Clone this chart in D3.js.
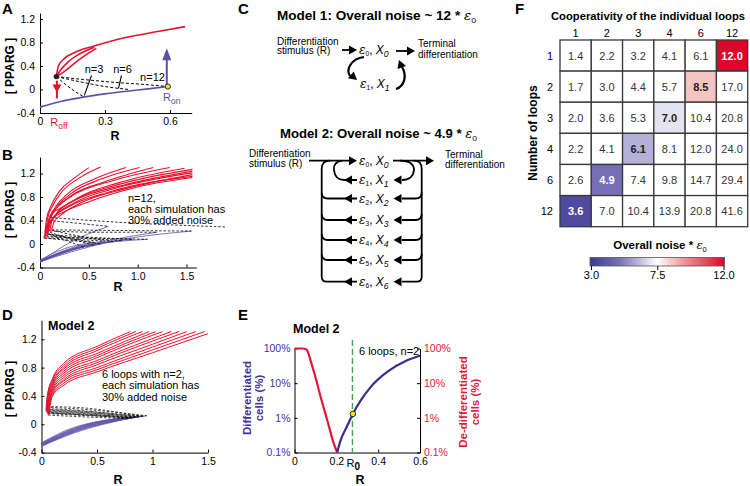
<!DOCTYPE html>
<html><head><meta charset="utf-8">
<script src="https://cdn.jsdelivr.net/npm/d3@7"></script>
<style>body{margin:0;background:#fff}svg{font-family:"Liberation Sans",Arial,sans-serif}</style>
</head><body><svg id="c" width="750" height="486"></svg>
<script>
// ---------------- DATA ----------------
// Panel A
const aXTicks=[0,0.3,0.6];
const aYTicks=[-0.4,0,0.4,0.8,1.2];
const aRed=[
 [[0.075,0.22],[0.085,0.40],[0.11,0.52],[0.16,0.63],[0.25,0.74],[0.40,0.89],[0.55,0.99],[0.67,1.07]],
 [[0.075,0.22],[0.095,0.33],[0.13,0.47],[0.18,0.60],[0.25,0.72]],
 [[0.075,0.22],[0.11,0.30],[0.15,0.42],[0.20,0.56],[0.26,0.70]]
];
const aBlue=[[0,-0.30],[0.1,-0.20],[0.2,-0.13],[0.3,-0.075],[0.4,-0.03],[0.5,0.01],[0.59,0.05]];
const aDashed=[
 [[0.075,0.22],[0.12,0.08],[0.16,-0.03],[0.20,-0.12]],
 [[0.075,0.22],[0.2,0.12],[0.3,0.05],[0.41,0.0]],
 [[0.075,0.22],[0.2,0.17],[0.35,0.12],[0.5,0.08],[0.59,0.05]]
];
const aLoopLabels=["n=3","n=6","n=12"];
const aROff=[0.075,0.22], aROn=[0.59,0.05];
const aOffArrow=[0.078,0.15,-0.05], aOnArrow=[0.585,0.07,0.70];

// Panel B (n=12, 30% noise)
const bXTicks=[0,0.5,1.0,1.5];
const bYTicks=[-0.4,0,0.4,0.8,1.2];
const bRed=[
 [[0.05,0.20],[0.07,0.45],[0.10,0.60],[0.20,0.90],[0.35,1.12],[0.50,1.30]],
 [[0.06,0.22],[0.08,0.45],[0.12,0.62],[0.22,0.88],[0.40,1.12],[0.62,1.31]],
 [[0.07,0.18],[0.09,0.40],[0.14,0.58],[0.28,0.85],[0.55,1.10],[0.88,1.30]],
 [[0.08,0.25],[0.10,0.42],[0.16,0.60],[0.32,0.86],[0.62,1.10],[1.02,1.30]],
 [[0.06,0.14],[0.08,0.35],[0.13,0.52],[0.30,0.80],[0.65,1.05],[1.16,1.30]],
 [[0.09,0.40],[0.11,0.50],[0.17,0.62],[0.35,0.84],[0.75,1.08],[1.33,1.30]],
 [[0.10,0.22],[0.12,0.38],[0.18,0.53],[0.38,0.78],[0.80,1.04],[1.48,1.29]],
 [[0.08,0.16],[0.10,0.33],[0.16,0.50],[0.36,0.75],[0.80,1.01],[1.56,1.27]],
 [[0.11,0.45],[0.13,0.52],[0.20,0.60],[0.40,0.78],[0.85,1.00],[1.56,1.24]],
 [[0.07,0.12],[0.09,0.30],[0.15,0.46],[0.35,0.70],[0.80,0.96],[1.56,1.21]],
 [[0.12,0.24],[0.14,0.36],[0.22,0.50],[0.42,0.70],[0.90,0.95],[1.56,1.18]],
 [[0.05,0.10],[0.07,0.28],[0.12,0.42],[0.28,0.62],[0.70,0.88],[1.56,1.15]],
 [[0.04,0.10],[0.07,0.30],[0.12,0.42],[0.25,0.55],[0.50,0.72],[1.00,0.97],[1.56,1.13]]
];
const bDashed=[
 [[0.05,0.20],[0.20,0.10],[0.45,-0.05]],
 [[0.06,0.22],[0.25,0.12],[0.55,-0.02]],
 [[0.07,0.18],[0.30,0.10],[0.62,0.00]],
 [[0.08,0.25],[0.35,0.15],[0.75,0.04]],
 [[0.06,0.14],[0.40,0.10],[0.85,0.06]],
 [[0.09,0.40],[0.40,0.35],[0.70,0.30]],
 [[0.10,0.22],[0.60,0.20],[1.20,0.20]],
 [[0.08,0.16],[0.45,0.12],[0.95,0.08]],
 [[0.11,0.45],[0.80,0.37],[1.90,0.29]],
 [[0.07,0.12],[0.50,0.10],[1.10,0.08]],
 [[0.12,0.24],[0.80,0.23],[1.55,0.22]],
 [[0.05,0.10],[0.30,0.06],[0.55,0.03]],
 [[0.04,0.10],[0.35,0.08],[0.65,0.05]]
];
const bBlue=[
 [[0,-0.30],[0.20,-0.15],[0.45,-0.05]],
 [[0,-0.31],[0.25,-0.13],[0.55,-0.02]],
 [[0,-0.29],[0.30,-0.10],[0.62,0.00]],
 [[0,-0.30],[0.35,-0.07],[0.75,0.04]],
 [[0,-0.28],[0.40,-0.05],[0.85,0.06]],
 [[0,-0.30],[0.30,0.02],[0.70,0.30]],
 [[0,-0.29],[0.60,0.02],[1.20,0.20]],
 [[0,-0.31],[0.45,-0.04],[0.95,0.08]],
 [[0,-0.28],[0.50,-0.03],[1.10,0.08]],
 [[0,-0.30],[0.70,0.03],[1.55,0.22]],
 [[0,-0.27],[0.25,-0.08],[0.55,0.03]],
 [[0,-0.29],[0.30,-0.08],[0.65,0.05]]
];
const bNote=["n=12,","each simulation has","30% added noise"];

// Panel D (Model 2, 6 loops n=2, 30% noise)
const dXTicks=[0,0.5,1,1.5];
const dYTicks=[-0.4,0,0.4,0.8,1.2];
const dRed=[
 [[0.045,0.24],[0.055,0.42],[0.10,0.65],[0.20,0.86],[0.50,1.10],[0.80,1.31]],
 [[0.040,0.21],[0.052,0.39],[0.10,0.63],[0.20,0.83],[0.50,1.07],[0.85,1.31]],
 [[0.050,0.25],[0.062,0.42],[0.10,0.60],[0.20,0.80],[0.50,1.04],[0.91,1.31]],
 [[0.042,0.19],[0.055,0.36],[0.10,0.58],[0.20,0.78],[0.50,1.00],[0.97,1.31]],
 [[0.055,0.22],[0.067,0.38],[0.10,0.56],[0.20,0.75],[0.50,0.97],[1.03,1.31]],
 [[0.048,0.17],[0.060,0.33],[0.10,0.54],[0.20,0.72],[0.50,0.94],[1.09,1.31]],
 [[0.060,0.20],[0.072,0.35],[0.10,0.51],[0.20,0.69],[0.50,0.90],[1.17,1.31]],
 [[0.052,0.16],[0.065,0.31],[0.10,0.49],[0.20,0.66],[0.50,0.87],[1.24,1.31]],
 [[0.065,0.18],[0.077,0.32],[0.10,0.47],[0.20,0.63],[0.50,0.84],[1.00,1.13],[1.31,1.31]],
 [[0.058,0.15],[0.070,0.29],[0.10,0.45],[0.20,0.61],[0.50,0.80],[1.00,1.09],[1.39,1.31]],
 [[0.070,0.16],[0.082,0.30],[0.10,0.42],[0.20,0.58],[0.50,0.77],[1.00,1.05],[1.47,1.31]],
 [[0.060,0.13],[0.073,0.28],[0.10,0.40],[0.20,0.55],[0.50,0.74],[1.00,1.01],[1.50,1.28]]
];
const dDashed=[
 [[0.045,0.24],[0.30,0.22],[0.95,0.12]],
 [[0.040,0.21],[0.30,0.19],[0.93,0.115]],
 [[0.050,0.25],[0.30,0.24],[0.91,0.11]],
 [[0.042,0.19],[0.30,0.17],[0.90,0.11]],
 [[0.055,0.22],[0.30,0.20],[0.88,0.105]],
 [[0.048,0.17],[0.30,0.15],[0.87,0.10]],
 [[0.060,0.20],[0.30,0.18],[0.85,0.10]],
 [[0.052,0.16],[0.30,0.14],[0.84,0.095]],
 [[0.065,0.18],[0.30,0.16],[0.82,0.09]],
 [[0.058,0.15],[0.30,0.13],[0.81,0.09]],
 [[0.070,0.16],[0.30,0.14],[0.79,0.085]],
 [[0.060,0.13],[0.30,0.11],[0.78,0.08]]
];
const dBlue=[
 [[0,-0.26],[0.3,-0.04],[0.95,0.12]],
 [[0,-0.27],[0.3,-0.05],[0.93,0.115]],
 [[0,-0.27],[0.3,-0.06],[0.91,0.11]],
 [[0,-0.28],[0.3,-0.06],[0.90,0.11]],
 [[0,-0.28],[0.3,-0.07],[0.88,0.105]],
 [[0,-0.29],[0.3,-0.08],[0.87,0.10]],
 [[0,-0.29],[0.3,-0.08],[0.85,0.10]],
 [[0,-0.30],[0.3,-0.09],[0.84,0.095]],
 [[0,-0.30],[0.3,-0.10],[0.82,0.09]],
 [[0,-0.30],[0.3,-0.10],[0.81,0.09]],
 [[0,-0.31],[0.3,-0.11],[0.79,0.085]],
 [[0,-0.31],[0.3,-0.12],[0.78,0.08]]
];
const dNote=["6 loops with n=2,","each simulation has","30% added noise"];

// Panel E (percent of cells vs R)
const eXTicks=[0,0.2,0.4,0.6];
const eYTicks=[0.1,1,10,100];
const eRed=[[0,100],[0.04,100],[0.055,95],[0.064,80],[0.074,51],[0.1,15],[0.125,4],[0.157,0.84],[0.188,0.18],[0.204,0.1]];
const eBlue=[[0.204,0.1],[0.22,0.22],[0.25,0.55],[0.279,1.3],[0.32,3.4],[0.364,7.7],[0.443,21],[0.539,46],[0.6,62]];
const eR0=0.277, eDot=[0.279,1.3];

// Panel F (overall noise table)
const fCols=["1","2","3","4","6","12"];
const fRows=["1","2","3","4","6","12"];
const fValues=[
 [1.4,2.2,3.2,4.1,6.1,12.0],
 [1.7,3.0,4.4,5.7,8.5,17.0],
 [2.0,3.6,5.3,7.0,10.4,20.8],
 [2.2,4.1,6.1,8.1,12.0,24.0],
 [2.6,4.9,7.4,9.8,14.7,29.4],
 [3.6,7.0,10.4,13.9,20.8,41.6]
];
const fHighlighted=[[0,5],[1,4],[2,3],[3,2],[4,1],[5,0]];
const fBarTicks=[3.0,7.5,12.0];

// ---------------- DRAWING ----------------
const svg=d3.select("#c");
const RED="#e4122e", BLUE="#5a51a6", EBLUE="#3a2c8c", ERED="#e2173b", LBLUE="#3d3597";
const FONT="'Liberation Sans',Arial,sans-serif";
const num=v=>String(v);

function arrowHead(g,x,y,ang,len,hw,color){
  g.append("path").attr("d",`M0,0 L${-len},${-hw} L${-len},${hw} Z`)
   .attr("transform",`translate(${x},${y}) rotate(${ang})`).attr("fill",color);
}
function letter(t,x,y){svg.append("text").attr("x",x).attr("y",y).attr("font-size",15).attr("font-weight","bold").text(t);}
function styleAxis(g){g.attr("font-family",FONT).attr("font-size",10.5);g.selectAll("path,line").attr("stroke","#000");}
function rotLabel(g,t,x,y,size,color){
  g.append("text").attr("transform",`translate(${x},${y}) rotate(-90)`).attr("text-anchor","middle")
   .attr("dy","0.35em").attr("font-size",size).attr("font-weight","bold").attr("fill",color||"#000").text(t);
}
function xyAxes(x,y,xt,yt,xf){
  const g=svg.append("g");
  g.append("g").attr("transform",`translate(0,${y.range()[0]})`)
   .call(d3.axisBottom(x).tickValues(xt).tickFormat(xf).tickSize(-3).tickSizeOuter(0).tickPadding(5)).call(styleAxis);
  g.append("g").attr("transform",`translate(${x.range()[0]},0)`)
   .call(d3.axisLeft(y).tickValues(yt).tickFormat(num).tickSize(-3).tickSizeOuter(0).tickPadding(5)).call(styleAxis);
  return g;
}
function curves(x,y,data,color,w,dash){
  const ln=d3.line().x(d=>x(d[0])).y(d=>y(d[1])).curve(d3.curveMonotoneX);
  const g=svg.append("g");
  g.selectAll("path").data(data).join("path").attr("d",ln).attr("fill","none")
   .attr("stroke",color).attr("stroke-width",w).attr("stroke-dasharray",dash||null);
  return g;
}

// ---- Panel A ----
letter("A",2,14);
const xA=d3.scaleLinear().domain([0,0.7]).range([40,191.7]);
const yA=d3.scaleLinear().domain([-0.4,1.3]).range([113,13.1]);
xyAxes(xA,yA,aXTicks,aYTicks,num);
curves(xA,yA,[aBlue],BLUE,1.6);
curves(xA,yA,aDashed,"#000",1,"3,2");
curves(xA,yA,aRed,RED,1.6);
{
 const g=svg.append("g");
 g.append("line").attr("x1",xA(aOffArrow[0])).attr("x2",xA(aOffArrow[0])).attr("y1",yA(aOffArrow[1])).attr("y2",yA(aOffArrow[2])+6).attr("stroke",RED).attr("stroke-width",2);
 arrowHead(g,xA(aOffArrow[0]),yA(aOffArrow[2]),90,8,4.5,RED);
 g.append("line").attr("x1",xA(aOnArrow[0])).attr("x2",xA(aOnArrow[0])).attr("y1",yA(aOnArrow[1])).attr("y2",yA(aOnArrow[2])+8).attr("stroke",BLUE).attr("stroke-width",2);
 arrowHead(g,xA(aOnArrow[0]),yA(aOnArrow[2]),-90,12,4.5,BLUE);
 g.append("circle").attr("cx",xA(aROff[0])).attr("cy",yA(aROff[1])).attr("r",2.6).attr("fill","#222");
 g.append("circle").attr("cx",xA(aROn[0])).attr("cy",yA(aROn[1])).attr("r",2.6).attr("fill","#f3e52a").attr("stroke","#000").attr("stroke-width",0.8);
 const lp=[[94,73],[122.5,73],[152.5,80.5]];
 aLoopLabels.forEach((t,i)=>g.append("text").attr("x",lp[i][0]).attr("y",lp[i][1]).attr("text-anchor","middle").attr("font-size",11).text(t));
 g.append("line").attr("x1",91.5).attr("y1",75.5).attr("x2",xA(0.2)+1).attr("y2",yA(-0.1)).attr("stroke","#000").attr("stroke-width",1.1);
 g.append("line").attr("x1",121.5).attr("y1",75.5).attr("x2",118.5).attr("y2",yA(0.02)).attr("stroke","#000").attr("stroke-width",1.1);
 const off=g.append("text").attr("x",xA(aROff[0])-6).attr("y",126).attr("font-size",11).attr("fill",RED);
 off.append("tspan").text("R");off.append("tspan").attr("font-size",8.5).attr("dy",2.5).text("off");
 const on=g.append("text").attr("x",163).attr("y",101).attr("font-size",11).attr("fill",BLUE);
 on.append("tspan").text("R");on.append("tspan").attr("font-size",8.5).attr("dy",2.5).text("on");
 g.append("text").attr("x",115).attr("y",139.5).attr("text-anchor","middle").attr("font-size",12.5).attr("font-weight","bold").text("R");
 rotLabel(g,"[ PPARG ]",10,66,12);
}

// ---- Panel B ----
letter("B",2,160);
const xB=d3.scaleLinear().domain([0,1.6]).range([40,196.3]);
const yB=d3.scaleLinear().domain([-0.4,1.48]).range([267.5,157]);
xyAxes(xB,yB,bXTicks,bYTicks,v=>v===0?"0":v.toFixed(1));
curves(xB,yB,bBlue,BLUE,0.8);
curves(xB,yB,bDashed,"#000",0.8,"2.5,1.8");
curves(xB,yB,bRed,RED,1.1);
{
 const g=svg.append("g");
 bNote.forEach((t,i)=>g.append("text").attr("x",128).attr("y",202+i*11).attr("font-size",11).text(t));
 g.append("text").attr("x",118).attr("y",291).attr("text-anchor","middle").attr("font-size",12.5).attr("font-weight","bold").text("R");
 rotLabel(g,"[ PPARG ]",10,210,12);
}

// ---- Panel D ----
letter("D",2,320);
const xD=d3.scaleLinear().domain([0,1.5]).range([41.5,208]);
const yD=d3.scaleLinear().domain([-0.4,1.47]).range([452.6,320.2]);
xyAxes(xD,yD,dXTicks,dYTicks,num);
curves(xD,yD,dBlue,BLUE,0.7);
curves(xD,yD,dDashed,"#000",0.7,"2.5,1.8");
curves(xD,yD,dRed,RED,1.0);
{
 const g=svg.append("g");
 g.append("text").attr("x",48).attr("y",330).attr("font-size",12.5).attr("font-weight","bold").text("Model 2");
 dNote.forEach((t,i)=>g.append("text").attr("x",102).attr("y",378+i*11.3).attr("font-size",11).text(t));
 g.append("text").attr("x",118).attr("y",484).attr("text-anchor","middle").attr("font-size",12.5).attr("font-weight","bold").text("R");
 rotLabel(g,"[ PPARG ]",10,389,12);
}

// ---- Panel E ----
letter("E",238,320);
const xE=d3.scaleLinear().domain([0,0.6]).range([294.5,420]);
const yE=d3.scaleLog().domain([0.1,100]).range([452.5,348.5]);
{
 const g=svg.append("g");
 g.append("g").attr("transform",`translate(0,${yE.range()[0]})`)
  .call(d3.axisBottom(xE).tickValues(eXTicks).tickFormat(num).tickSize(-3).tickSizeOuter(0).tickPadding(5)).call(styleAxis);
 const la=g.append("g").attr("transform",`translate(${xE.range()[0]},0)`)
  .call(d3.axisLeft(yE).tickValues(eYTicks).tickFormat(v=>v+"%").tickSize(-3).tickSizeOuter(0).tickPadding(4)).call(styleAxis);
 la.selectAll("text").attr("fill",LBLUE);
 const ra=g.append("g").attr("transform",`translate(${xE.range()[1]},0)`)
  .call(d3.axisRight(yE).tickValues(eYTicks).tickFormat(v=>v+"%").tickSize(-3).tickSizeOuter(0).tickPadding(4)).call(styleAxis);
 ra.selectAll("text").attr("fill",ERED);
 g.append("line").attr("x1",xE(eR0)).attr("x2",xE(eR0)).attr("y1",340).attr("y2",yE.range()[0])
  .attr("stroke","#3aa84e").attr("stroke-width",1.4).attr("stroke-dasharray","6,3");
 const ln=d3.line().x(d=>xE(d[0])).y(d=>yE(d[1])).curve(d3.curveMonotoneX);
 g.append("path").attr("d",ln(eRed)).attr("fill","none").attr("stroke",ERED).attr("stroke-width",2.2);
 g.append("path").attr("d",ln(eBlue)).attr("fill","none").attr("stroke",EBLUE).attr("stroke-width",2.2);
 g.append("circle").attr("cx",xE(eDot[0])).attr("cy",yE(eDot[1])).attr("r",2.8).attr("fill","#f3e52a").attr("stroke","#000").attr("stroke-width",0.8);
 g.append("text").attr("x",293).attr("y",333).attr("font-size",12.5).attr("font-weight","bold").text("Model 2");
 g.append("text").attr("x",359).attr("y",355).attr("font-size",11).text("6 loops, n=2");
 const r0=g.append("text").attr("x",xE(eR0)-6).attr("y",467).attr("font-size",11);
 r0.append("tspan").text("R");r0.append("tspan").attr("font-weight","bold").attr("font-size",10).attr("dy",3).text("0");
 g.append("text").attr("x",360).attr("y",484).attr("text-anchor","middle").attr("font-size",12.5).attr("font-weight","bold").text("R");
 rotLabel(g,"Differentiated",247,398,11.5,LBLUE);
 rotLabel(g,"cells (%)",258.5,398,11.5,LBLUE);
 rotLabel(g,"De-differentiated",463,402,11.5,ERED);
 rotLabel(g,"cells (%)",475,402,11.5,ERED);
}

// ---- Panel C (diagrams) ----
letter("C",238,14);
function epsText(g,x,y,i,size){
  const t=g.append("text").attr("x",x).attr("y",y).attr("font-size",size);
  t.append("tspan").attr("font-family","'DejaVu Serif',serif").attr("font-style","italic").text("ε");
  t.append("tspan").attr("font-size",size*0.55).attr("dy",2).text(i);
  t.append("tspan").attr("dy",-2).text(", ");
  t.append("tspan").attr("font-style","italic").text("X");
  t.append("tspan").attr("font-style","italic").attr("font-size",size*0.72).attr("dy",3).text(i);
  return t;
}
function title(g,x,y,str,len){
  const t=g.append("text").attr("x",x).attr("y",y).attr("font-size",12.5).attr("font-weight","bold")
   .attr("textLength",len).attr("lengthAdjust","spacingAndGlyphs");
  t.append("tspan").text(str);
  t.append("tspan").attr("font-family","'DejaVu Serif',serif").attr("font-style","italic").attr("font-weight","normal").text("ε");
  t.append("tspan").attr("font-size",8).attr("font-weight","normal").attr("dy",3).text("0");
}
{
 const g=svg.append("g");
 title(g,277,19.5,"Model 1: Overall noise ~ 12 * ",199);
 g.append("text").attr("x",277).attr("y",44.5).attr("font-size",10).text("Differentiation");
 g.append("text").attr("x",277).attr("y",54).attr("font-size",10).text("stimulus (R)");
 g.append("line").attr("x1",342).attr("x2",350).attr("y1",50).attr("y2",50).attr("stroke","#000").attr("stroke-width",1.8);
 arrowHead(g,357,50,0,8,4.5,"#000");
 epsText(g,359,54,"0",12);
 g.append("line").attr("x1",396).attr("x2",408).attr("y1",51).attr("y2",51).attr("stroke","#000").attr("stroke-width",1.8);
 arrowHead(g,415,51,0,8,4.5,"#000");
 g.append("text").attr("x",418).attr("y",47).attr("font-size",10).text("Terminal");
 g.append("text").attr("x",418).attr("y",58).attr("font-size",10).text("differentiation");
 g.append("path").attr("d","M364,57 C350,59 346,70 350,76").attr("fill","none").attr("stroke","#000").attr("stroke-width",2.2);
 arrowHead(g,357,80,40,8,4.5,"#000");
 epsText(g,360,88,"1",12);
 g.append("path").attr("d","M396,89 C405,86 407,75 402,67").attr("fill","none").attr("stroke","#000").attr("stroke-width",2.2);
 arrowHead(g,399,60,-110,8,4.5,"#000");

 // Model 2
 title(g,280,137.5,"Model 2: Overall noise ~  4.9 * ",197);
 g.append("text").attr("x",249).attr("y",157).attr("font-size",10).text("Differentiation");
 g.append("text").attr("x",249).attr("y",166.5).attr("font-size",10).text("stimulus (R)");
 const rowsY=[161,180,198.5,220,240,260,281.7];
 const st={fill:"none",stroke:"#000","stroke-width":1.8};
 const P=d=>{const p=g.append("path").attr("d",d);Object.entries(st).forEach(([k,v])=>p.attr(k,v));};
 P("M309,160.7 H350");
 arrowHead(g,357,160.7,0,8,4.5,"#000");
 epsText(g,359,165,"0",12);
 P("M393,160.7 H426");
 arrowHead(g,434,160.7,0,8,4.5,"#000");
 g.append("text").attr("x",445).attr("y",158).attr("font-size",10).text("Terminal");
 g.append("text").attr("x",445).attr("y",168).attr("font-size",10).text("differentiation");
 P("M330,160.7 Q321.7,160.7 321.7,169 V276.7 Q321.7,281.7 326.7,281.7 H357");
 P("M414,160.7 Q421.7,160.7 421.7,169 V276.7 Q421.7,281.7 416.7,281.7 H402");
 P("M342,160.7 Q333,162 334,170 Q335,180 344,180 H357");
 P("M400,160.7 Q414,161 414,170 Q413,180 402,180");
 rowsY.forEach((y,i)=>{
   if(i===0) return;
   if(i>=2 && i<6){ P(`M321.7,${y-6} Q321.7,${y} 327.7,${y} H357`); P(`M421.7,${y-6} Q421.7,${y} 415.7,${y} H402`); }
   arrowHead(g,344,y,180,8,4.5,"#000");
   arrowHead(g,393.5,y,180,8,4.5,"#000");
   epsText(g,359,y+4,String(i),12);
 });
}

// ---- Panel F ----
letter("F",515,14);
{
 const g=svg.append("g");
 const cx=d3.scaleBand().domain(fCols).range([560,747.7]);
 const ry=d3.scaleBand().domain(fRows).range([40,226.7]);
 const col=d3.scaleLinear().domain([3,5,7.5,9,12]).range(["#3c3a95","#7a72b8","#ffffff","#f2a6a3","#d9072b"]);
 const hi=new Set(fHighlighted.map(d=>d[0]+"_"+d[1]));
 const cells=[];
 fValues.forEach((r,i)=>r.forEach((v,j)=>cells.push({i,j,v,h:hi.has(i+"_"+j)})));
 const cg=g.selectAll("g.cell").data(cells).join("g");
 cg.append("rect").attr("x",d=>cx(fCols[d.j])).attr("y",d=>ry(fRows[d.i])).attr("width",cx.bandwidth()).attr("height",ry.bandwidth())
   .attr("fill",d=>d.h?col(d.v):"#fff").attr("stroke","#3a3a3a").attr("stroke-width",1.3);
 cg.append("text").attr("x",d=>cx(fCols[d.j])+cx.bandwidth()/2).attr("y",d=>ry(fRows[d.i])+ry.bandwidth()/2+4)
   .attr("text-anchor","middle").attr("font-size",11)
   .attr("font-weight",d=>d.h?"bold":"normal")
   .attr("fill",d=>d.h?(d3.hsl(col(d.v)).l<0.6?"#fff":"#222"):"#333")
   .text(d=>d.v.toFixed(1));
 g.selectAll("text.cl").data(fCols).join("text").attr("x",d=>cx(d)+cx.bandwidth()/2).attr("y",37).attr("text-anchor","middle").attr("font-size",11).text(d=>d);
 g.selectAll("text.rl").data(fRows).join("text").attr("x",553).attr("y",d=>ry(d)+ry.bandwidth()/2+4).attr("text-anchor","end").attr("font-size",11).text(d=>d);
 g.append("text").attr("x",648).attr("y",19.5).attr("text-anchor","middle").attr("font-size",10.6).attr("font-weight","bold")
   .attr("textLength",194).attr("lengthAdjust","spacingAndGlyphs").text("Cooperativity of the individual loops");
 rotLabel(g,"Number of loops",533,133,12);
 const bx=d3.scaleLinear().domain([3,12]).range([591,723.5]);
 const grad=svg.append("defs").append("linearGradient").attr("id","cb");
 col.domain().forEach(v=>grad.append("stop").attr("offset",(v-3)/9).attr("stop-color",col(v)));
 g.append("rect").attr("x",bx(3)-1).attr("y",257.5).attr("width",bx(12)-bx(3)+2).attr("height",8.5).attr("fill","url(#cb)").attr("stroke","#555").attr("stroke-width",0.8);
 g.append("g").attr("transform","translate(0,266)").call(d3.axisBottom(bx).tickValues(fBarTicks).tickFormat(d3.format(".1f")).tickSize(4).tickSizeOuter(0).tickPadding(1)).call(styleAxis)
   .call(a=>a.select(".domain").remove()).selectAll("text").attr("font-size",11);
 const ct=g.append("text").attr("x",660).attr("y",249).attr("text-anchor","middle").attr("font-size",11.5).attr("font-weight","bold");
 ct.append("tspan").text("Overall noise * ");
 ct.append("tspan").attr("font-family","'DejaVu Serif',serif").attr("font-style","italic").attr("font-weight","normal").text("ε");
 ct.append("tspan").attr("font-size",7.5).attr("font-weight","normal").attr("dy",3).text("0");
}
</script></body></html>
